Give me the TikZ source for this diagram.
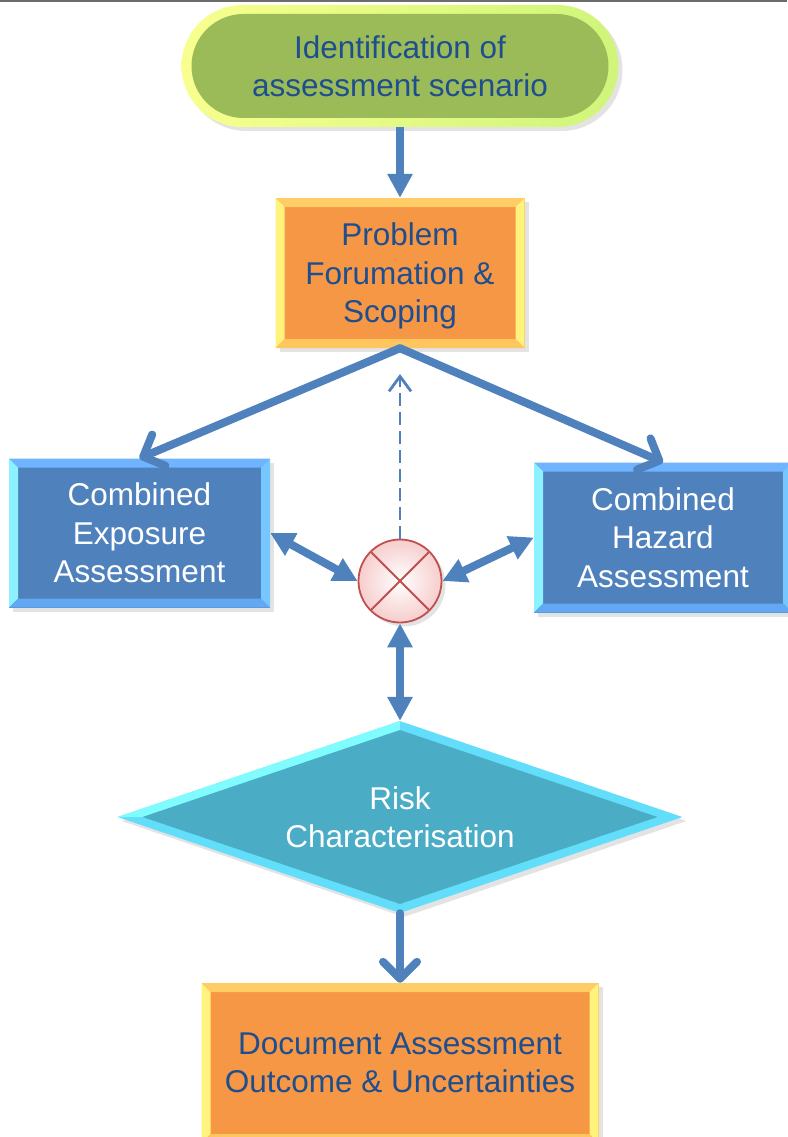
\documentclass[tikz,border=0pt]{standalone}
\usepackage{fontspec}
\setmainfont{Liberation Sans}
\usetikzlibrary{arrows.meta,shapes.geometric,shapes.misc,shadows,calc}
\definecolor{arrowblue}{HTML}{4F81BD}
\definecolor{textblue}{HTML}{1F4E8F}
\definecolor{greenfill}{HTML}{9BBB59}
\definecolor{greenbevL}{HTML}{F8FF8E}
\definecolor{greenbevR}{HTML}{CFF57A}
\definecolor{orangefill}{HTML}{F59745}
\definecolor{orangetop}{HTML}{FFCC66}
\definecolor{orangeside}{HTML}{FFF27D}
\definecolor{orangebot}{HTML}{FFC55E}
\definecolor{bluefill}{HTML}{4F81BD}
\definecolor{bluetop}{HTML}{70B4FF}
\definecolor{blueleft}{HTML}{8CF2FF}
\definecolor{blueright}{HTML}{76C6FF}
\definecolor{bluebot}{HTML}{62A8F2}
\definecolor{tealfill}{HTML}{4BACC6}
\definecolor{cyanbev}{HTML}{62DDFA}
\definecolor{cyanlight}{HTML}{80FCFF}
\definecolor{circred}{HTML}{C0504D}
\definecolor{circpink}{HTML}{F7CDCD}
\tikzset{
  every node/.style={font=\fontsize{31.5}{38.5}\selectfont, align=center},
  shade/.style={drop shadow={shadow xshift=4pt, shadow yshift=-4pt, opacity=0.22}},
  bevbox/.style n args={5}{rectangle, inner sep=0pt, fill=#1, shade,
    path picture={
      \coordinate (pnw) at (path picture bounding box.north west);
      \coordinate (pne) at (path picture bounding box.north east);
      \coordinate (psw) at (path picture bounding box.south west);
      \coordinate (pse) at (path picture bounding box.south east);
      \coordinate (qnw) at ([shift={(9pt,-9pt)}]pnw);
      \coordinate (qne) at ([shift={(-9pt,-9pt)}]pne);
      \coordinate (qsw) at ([shift={(9pt,9pt)}]psw);
      \coordinate (qse) at ([shift={(-9pt,9pt)}]pse);
      \fill[#2] (pnw) -- (pne) -- (qne) -- (qnw) -- cycle;
      \fill[#3] (pnw) -- (qnw) -- (qsw) -- (psw) -- cycle;
      \fill[#4] (pne) -- (qne) -- (qse) -- (pse) -- cycle;
      \fill[#5] (psw) -- (qsw) -- (qse) -- (pse) -- cycle;
    }},
  orangebox/.style={bevbox={orangefill}{orangetop}{orangeside}{orangeside}{orangebot}, text=textblue},
  bluebox/.style={bevbox={bluefill}{bluetop}{blueleft}{blueright}{bluebot}, text=white},
  fat/.style={draw=arrowblue, line width=8pt},
  solidtip/.style={-{Triangle[length=24pt,width=24pt]}},
  bothtips/.style={{Triangle[length=24pt,width=24pt]}-{Triangle[length=24pt,width=24pt]}},
  barbtip/.style={-{Straight Barb[length=17pt,width=34pt,round]}, line cap=round},
  thinback/.style={draw=arrowblue, line width=2.8pt, dash pattern=on 13pt off 6pt, -{Straight Barb[length=15pt,width=22pt]}},
}
\begin{document}
\begin{tikzpicture}[x=1pt,y=-1pt]
\useasboundingbox (0,0) rectangle (787,1137);
\fill[gray!85!black] (0,0) rectangle (787,2.5);

% start terminal
\node[rounded rectangle, minimum width=437pt, minimum height=122pt, inner sep=0pt,
      left color=greenbevL, right color=greenbevR, shade, text=textblue,
      path picture={
        \fill[greenfill, rounded corners=52pt]
          ([shift={(10pt,9pt)}]path picture bounding box.south west) rectangle
          ([shift={(-10pt,-9pt)}]path picture bounding box.north east);
      }] (start) at (400,66) {Identification of\\assessment scenario};

\node[orangebox, minimum width=249pt, minimum height=150pt, text depth=0pt] (prob) at (400,273) {Problem\\Forumation \&\\Scoping};

\node[bluebox, minimum width=261pt, minimum height=149pt] (expo) at (139.5,533) {Combined\\Exposure\\Assessment};
\node[bluebox, minimum width=258pt, minimum height=150pt] (haz) at (663,537.5) {Combined\\Hazard\\Assessment};

\node[circle, minimum size=83pt, inner sep=0pt, inner color=white, outer color=circpink,
      draw=circred, line width=1.8pt, shade,
      path picture={
        \draw[circred, line width=1.8pt]
          (path picture bounding box.north west) -- (path picture bounding box.south east)
          (path picture bounding box.north east) -- (path picture bounding box.south west);
      }] (comb) at (400,581) {};

\node[diamond, aspect=3, minimum width=565pt, minimum height=192pt, inner sep=0pt,
      fill=cyanbev, text=white, shade,
      path picture={
        \coordinate (dw) at (path picture bounding box.west);
        \coordinate (dn) at (path picture bounding box.north);
        \coordinate (de) at (path picture bounding box.east);
        \coordinate (ds) at (path picture bounding box.south);
        \coordinate (iw) at ([xshift=25pt]dw);
        \coordinate (in) at ([yshift=-9pt]dn);
        \coordinate (ie) at ([xshift=-25pt]de);
        \coordinate (is) at ([yshift=9pt]ds);
        \fill[cyanlight] (dw) -- (dn) -- (in) -- (iw) -- cycle;
        \fill[tealfill] (iw) -- (in) -- (ie) -- (is) -- cycle;
      }] (risk) at (400,817) {Risk\\Characterisation};

\node[orangebox, minimum width=397pt, minimum height=160pt] (doc) at (400,1063) {Document Assessment\\Outcome \& Uncertainties};

% connectors
\draw[fat, solidtip] (start.south) -- (prob.north);
\draw[fat, barbtip] (prob.south) -- (expo.north);
\draw[fat, barbtip] (prob.south) -- (haz.north);
\coordinate (back) at (400,374);
\draw[thinback] (comb.north) -- (back);
\draw[fat, bothtips] (expo.east) -- (comb.west);
\draw[fat, bothtips] (comb.east) -- (haz.west);
\draw[fat, bothtips] (comb.south) -- (risk.north);
\draw[fat, barbtip] (risk.south) -- (doc.north);
\end{tikzpicture}
\end{document}
